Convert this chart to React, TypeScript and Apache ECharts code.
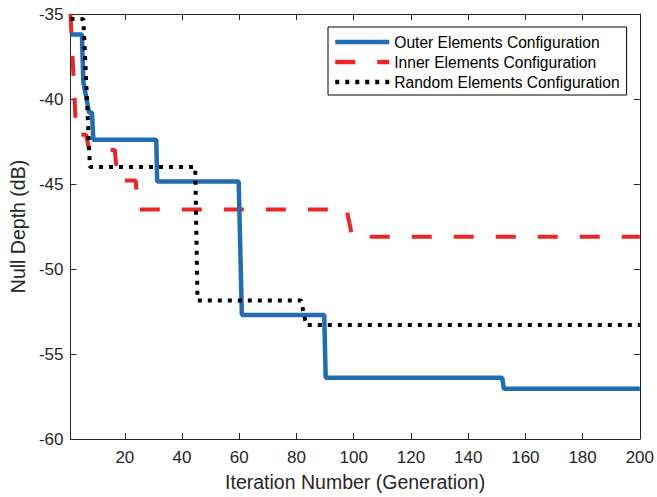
import React, { useEffect, useRef } from "react";
import * as echarts from "echarts";

const outerX = [1, 5, 5.5, 7.5, 8.5, 9, 31, 31.3, 59.8, 60.9, 89.7, 90.2, 151.9, 152.5, 200];
const outerY = [-36.2, -36.2, -39.0, -40.8, -40.8, -42.4, -42.4, -44.85, -44.85, -52.7, -52.7, -56.4, -56.4, -57.05, -57.05];

const innerX = [1, 2.3, 3, 6.5, 7.5, 16.5, 17.5, 23.8, 24.5, 97.5, 99.5, 200];
const innerY = [-35.0, -39.5, -42.1, -42.1, -43.0, -43.0, -44.8, -44.8, -46.5, -46.5, -48.1, -48.1];

const randomX = [1, 5.5, 6.5, 7.8, 44.6, 45.4, 81.6, 83.4, 200];
const randomY = [-35.3, -35.3, -39.0, -44.0, -44.0, -51.85, -51.85, -53.3, -53.3];

const xTicks = [20, 40, 60, 80, 100, 120, 140, 160, 180, 200];
const seriesNames = [
  "Outer Elements Configuration",
  "Inner Elements Configuration",
  "Random Elements Configuration",
];

const zip = (xs: number[], ys: number[]) => xs.map((x, i) => [x, ys[i]]);

export default function App() {
  const ref = useRef<HTMLDivElement>(null);
  useEffect(() => {
    if (!ref.current) return;
    const chart = echarts.init(ref.current, undefined, { renderer: "svg" });
    const axisColor = "#262626";
    const font = "'Liberation Sans', Arial, sans-serif";
    chart.setOption({
      animation: false,
      backgroundColor: "#ffffff",
      textStyle: { fontFamily: font },
      grid: { left: 69, right: 14, top: 14, bottom: 55 },
      legend: {
        orient: "vertical",
        left: 328,
        top: 27,
        data: seriesNames,
        itemWidth: 54,
        itemHeight: 16,
        itemGap: 4,
        padding: [7, 7, 5, 5],
        borderColor: "#000",
        borderWidth: 1,
        backgroundColor: "#fff",
        itemStyle: { opacity: 0 },
        lineStyle: { width: 4.5 },
        textStyle: { fontFamily: font, fontSize: 15.6, color: "#000", lineHeight: 16 },
      },
      xAxis: [
        {
          type: "value",
          min: 1,
          max: 200,
          name: "Iteration Number (Generation)",
          nameLocation: "middle",
          nameGap: 33,
          nameTextStyle: { fontSize: 19.5, color: axisColor, fontFamily: font },
          axisLine: { onZero: false, lineStyle: { color: axisColor, width: 1 } },
          axisTick: { inside: true, length: 6, customValues: xTicks, lineStyle: { color: axisColor } },
          axisLabel: { customValues: xTicks, fontSize: 17, color: axisColor, margin: 10, fontFamily: font },
          splitLine: { show: false },
        },
        {
          type: "value",
          position: "top",
          min: 1,
          max: 200,
          axisLine: { onZero: false, lineStyle: { color: axisColor, width: 1 } },
          axisTick: { inside: true, length: 6, customValues: xTicks, lineStyle: { color: axisColor } },
          axisLabel: { show: false },
          splitLine: { show: false },
        },
      ],
      yAxis: [
        {
          type: "value",
          min: -60,
          max: -35,
          interval: 5,
          name: "Null Depth (dB)",
          nameLocation: "middle",
          nameGap: 38,
          nameTextStyle: { fontSize: 19.5, color: axisColor, fontFamily: font },
          axisLine: { show: true, onZero: false, lineStyle: { color: axisColor, width: 1 } },
          axisTick: { show: true, inside: true, length: 6, lineStyle: { color: axisColor } },
          axisLabel: { fontSize: 17, color: axisColor, margin: 7, fontFamily: font },
          splitLine: { show: false },
        },
        {
          type: "value",
          position: "right",
          min: -60,
          max: -35,
          interval: 5,
          axisLine: { show: true, onZero: false, lineStyle: { color: axisColor, width: 1 } },
          axisTick: { show: true, inside: true, length: 6, lineStyle: { color: axisColor } },
          axisLabel: { show: false },
          splitLine: { show: false },
        },
      ],
      series: [
        {
          name: seriesNames[0],
          type: "line",
          data: zip(outerX, outerY),
          symbol: "none",
          lineStyle: { color: "#1f6db3", width: 4.5, type: "solid" },
          itemStyle: { color: "#1f6db3" },
          clip: true,
          z: 3,
        },
        {
          name: seriesNames[1],
          type: "line",
          data: zip(innerX, innerY),
          symbol: "none",
          lineStyle: { color: "#ee2526", width: 4, type: [20, 22] },
          itemStyle: { color: "#ee2526" },
          clip: true,
          z: 2,
        },
        {
          name: seriesNames[2],
          type: "line",
          data: zip(randomX, randomY),
          symbol: "none",
          lineStyle: { color: "#000000", width: 4, type: [4, 6] },
          itemStyle: { color: "#000000" },
          clip: true,
          z: 4,
        },
      ],
    });
    return () => chart.dispose();
  }, []);
  return <div ref={ref} style={{ width: 657, height: 497, position: "absolute", left: 0, top: 0 }} />;
}
